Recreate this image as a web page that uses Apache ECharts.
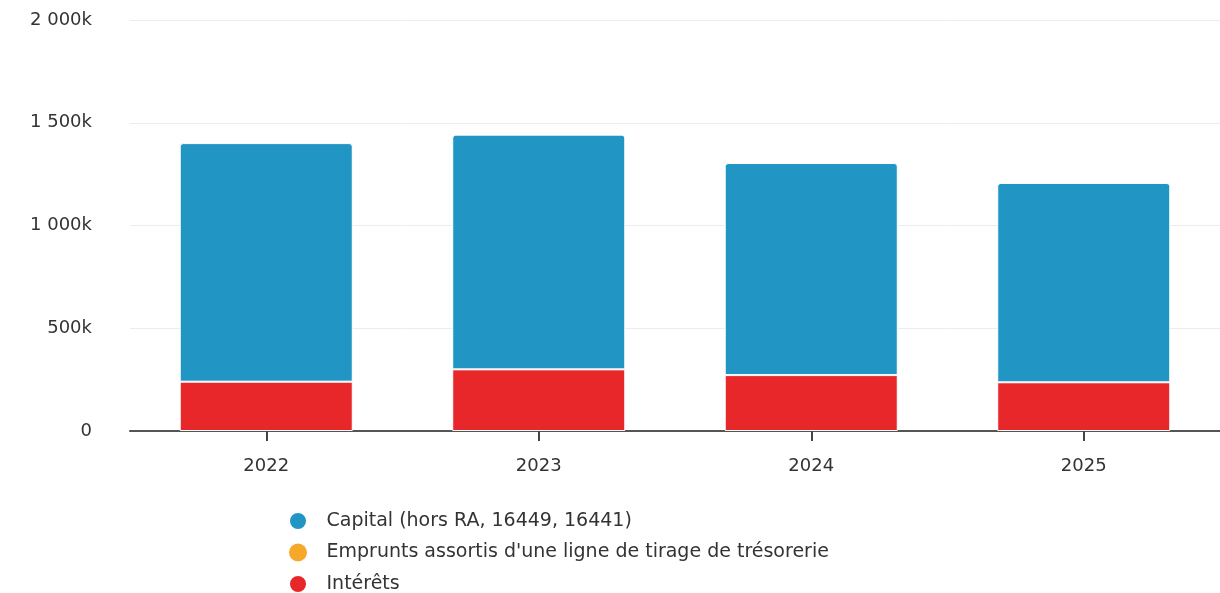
<!DOCTYPE html>
<html>
<head>
<meta charset="utf-8">
<script src="https://cdn.jsdelivr.net/npm/echarts@6/dist/echarts.min.js"></script>
<style>html,body{margin:0;padding:0;background:#fff}#c{width:1220px;height:593px}</style>
</head>
<body>
<div id="c"></div>
<script>
const categories = ['2022', '2023', '2024', '2025'];
const capital = [1161000, 1142000, 1032000, 970000];
const emprunts = [0, 0, 0, 0];
const interets = [240000, 300000, 272000, 237000];
const yTicks = [0, 500000, 1000000, 1500000, 2000000];
const names = ['Capital (hors RA, 16449, 16441)', "Emprunts assortis d'une ligne de tirage de trésorerie", 'Intérêts'];

function fmt(v) {
  if (v === 0) return '0';
  const k = Math.round(v / 1000);
  return String(k).replace(/\B(?=(\d{3})+(?!\d))/g, ' ') + 'k';
}

const chart = echarts.init(document.getElementById('c'));
chart.setOption({
  animation: false,
  grid: { left: 130, right: 0, top: 20, bottom: 162 },
  legend: {
    orient: 'vertical', left: 288, top: 511, height: 90, padding: 0,
    icon: 'circle', itemWidth: 19, itemHeight: 18, itemGap: 12,
    data: names,
    textStyle: { fontFamily: 'DejaVu Sans', fontSize: 19, lineHeight: 18, color: '#333', padding: [0, 0, 0, 14] }
  },
  xAxis: {
    type: 'category', data: categories,
    axisLine: { show: true, lineStyle: { color: '#555', width: 2 } },
    axisTick: { show: true, alignWithLabel: true, length: 10, lineStyle: { color: '#444', width: 2 } },
    axisLabel: { fontFamily: 'DejaVu Sans', fontSize: 18, color: '#333', margin: 26 }
  },
  yAxis: {
    type: 'value', min: yTicks[0], max: yTicks[yTicks.length - 1], interval: 500000,
    axisLine: { show: false }, axisTick: { show: false },
    splitLine: { lineStyle: { color: '#ececec', width: 1 } },
    axisLabel: { fontFamily: 'DejaVu Sans', fontSize: 18, color: '#333', margin: 38, formatter: fmt }
  },
  series: [
    { name: names[2], type: 'bar', stack: 't', data: interets, barWidth: '63.5%',
      itemStyle: { color: '#e8272b', borderColor: '#fff', borderWidth: 1 } },
    { name: names[1], type: 'bar', stack: 't', data: emprunts,
      itemStyle: { color: '#f5a82a' } },
    { name: names[0], type: 'bar', stack: 't', data: capital,
      itemStyle: { color: '#2196c4', borderColor: '#fff', borderWidth: 1, borderRadius: [3, 3, 0, 0] } }
  ]
});
</script>
</body>
</html>
